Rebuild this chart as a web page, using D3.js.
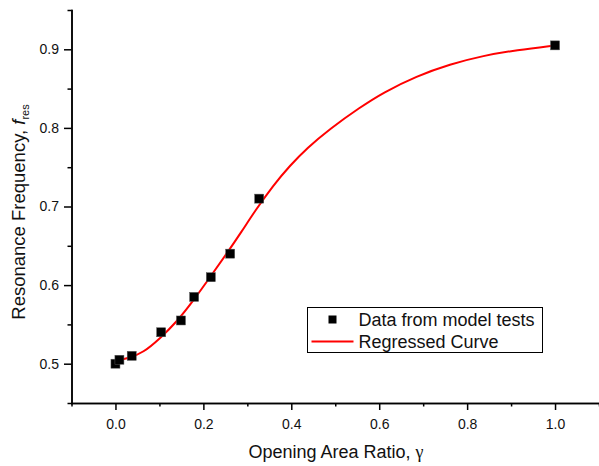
<!DOCTYPE html>
<meta charset="utf-8">
<style>
body { margin: 0; background: #fff; }
svg { display: block; font-family: Arial, "Liberation Sans", sans-serif; }
.axis path, .axis line { stroke: #000; stroke-width: 1.5; }
.axis text { font-size: 14px; fill: #111; }
</style>
<body>
<script src="https://cdn.jsdelivr.net/npm/d3@7"></script>
<script>
// measured points (opening area ratio vs resonance frequency)
var gamma = [0, 0.009, 0.037, 0.104, 0.149, 0.179, 0.217, 0.261, 0.327, 1.0];
var fres  = [0.5, 0.505, 0.51, 0.54, 0.555, 0.585, 0.61, 0.64, 0.71, 0.905];

// regressed curve
var curveX = [0, 0.03, 0.063, 0.101, 0.139, 0.177, 0.215, 0.253, 0.287, 0.317, 0.359, 0.397,
              0.435, 0.488, 0.556, 0.609, 0.685, 0.761, 0.837, 0.913, 1.0];
var curveY = [0.504, 0.507, 0.514, 0.532, 0.553, 0.580, 0.610, 0.640, 0.668, 0.694, 0.727, 0.752,
              0.774, 0.799, 0.826, 0.845, 0.866, 0.881, 0.892, 0.899, 0.905];

var xMajor = [0, 0.2, 0.4, 0.6, 0.8, 1.0];
var xMinor = [-0.1, 0.1, 0.3, 0.5, 0.7, 0.9, 1.1];
var yMajor = [0.5, 0.6, 0.7, 0.8, 0.9];
var yMinor = [0.45, 0.55, 0.65, 0.75, 0.85, 0.95];

var legendLabels = ["Data from model tests", "Regressed Curve"];

var width = 599, height = 466;
var svg = d3.select("body").append("svg")
    .attr("width", width)
    .attr("height", height);

var x = d3.scaleLinear().domain([-0.1, 1.1]).range([71.5, 599]);
var y = d3.scaleLinear().domain([0.45, 0.95]).range([403, 10]);

// minor ticks first (no labels)
svg.append("g")
    .attr("class", "axis")
    .attr("transform", "translate(0,403)")
    .call(d3.axisBottom(x).tickValues(xMinor).tickSize(3.5).tickSizeOuter(0).tickFormat(""));
svg.append("g")
    .attr("class", "axis")
    .attr("transform", "translate(71.5,0)")
    .call(d3.axisLeft(y).tickValues(yMinor).tickSize(4).tickSizeOuter(0).tickFormat(""));

// major ticks
svg.append("g")
    .attr("class", "axis")
    .attr("transform", "translate(0,403)")
    .call(d3.axisBottom(x).tickValues(xMajor).tickSize(7).tickSizeOuter(0)
      .tickPadding(9).tickFormat(d3.format(".1f")));
svg.append("g")
    .attr("class", "axis")
    .attr("transform", "translate(71.5,0)")
    .call(d3.axisLeft(y).tickValues(yMajor).tickSize(7.5).tickSizeOuter(0)
      .tickPadding(5).tickFormat(d3.format(".1f")));

svg.selectAll(".axis .domain").attr("stroke-linecap", "square");

// regressed curve
var line = d3.line()
    .x(function(d, i) { return x(curveX[i]); })
    .y(function(d) { return y(d); })
    .curve(d3.curveBasis);

svg.append("path")
    .datum(curveY)
    .attr("fill", "none")
    .attr("stroke", "#ff0000")
    .attr("stroke-width", 2)
    .attr("d", line);

// data points
var s = 9;
svg.selectAll(".pt")
    .data(fres)
  .enter().append("rect")
    .attr("class", "pt")
    .attr("x", function(d, i) { return x(gamma[i]) - s / 2; })
    .attr("y", function(d) { return y(d) - s / 2; })
    .attr("width", s)
    .attr("height", s)
    .attr("fill", "#000")
    .attr("stroke", "#555")
    .attr("stroke-width", 0.5);

// axis titles
svg.append("text")
    .attr("x", 336)
    .attr("y", 458)
    .attr("text-anchor", "middle")
    .style("font-size", "18px")
    .style("fill", "#111")
    .text("Opening Area Ratio, ")
  .append("tspan")
    .style("font-family", "'Liberation Serif', 'DejaVu Serif', serif")
    .text("γ");

var yt = svg.append("text")
    .attr("transform", "translate(25,212) rotate(-90)")
    .attr("text-anchor", "middle")
    .style("font-size", "18.5px")
    .style("fill", "#111");
yt.append("tspan").text("Resonance Frequency, ");
yt.append("tspan").style("font-style", "italic").text("f");
yt.append("tspan").attr("dy", 4).style("font-size", "11px").text("res");

// legend
var lg = svg.append("g").attr("transform", "translate(307.5,307.5)");
lg.append("rect")
    .attr("width", 235)
    .attr("height", 45)
    .attr("fill", "#fff")
    .attr("stroke", "#000")
    .attr("stroke-width", 1);
lg.append("rect")
    .attr("x", 25 - 4)
    .attr("y", 12 - 4)
    .attr("width", 8)
    .attr("height", 8)
    .attr("fill", "#000");
lg.append("line")
    .attr("x1", 4).attr("x2", 46)
    .attr("y1", 34).attr("y2", 34)
    .attr("stroke", "#ff0000")
    .attr("stroke-width", 2);
lg.selectAll(".lt")
    .data(legendLabels)
  .enter().append("text")
    .attr("class", "lt")
    .attr("x", 51)
    .attr("y", function(d, i) { return 18 + i * 22; })
    .style("font-size", "18px")
    .style("fill", "#111")
    .text(function(d) { return d; });
</script>
